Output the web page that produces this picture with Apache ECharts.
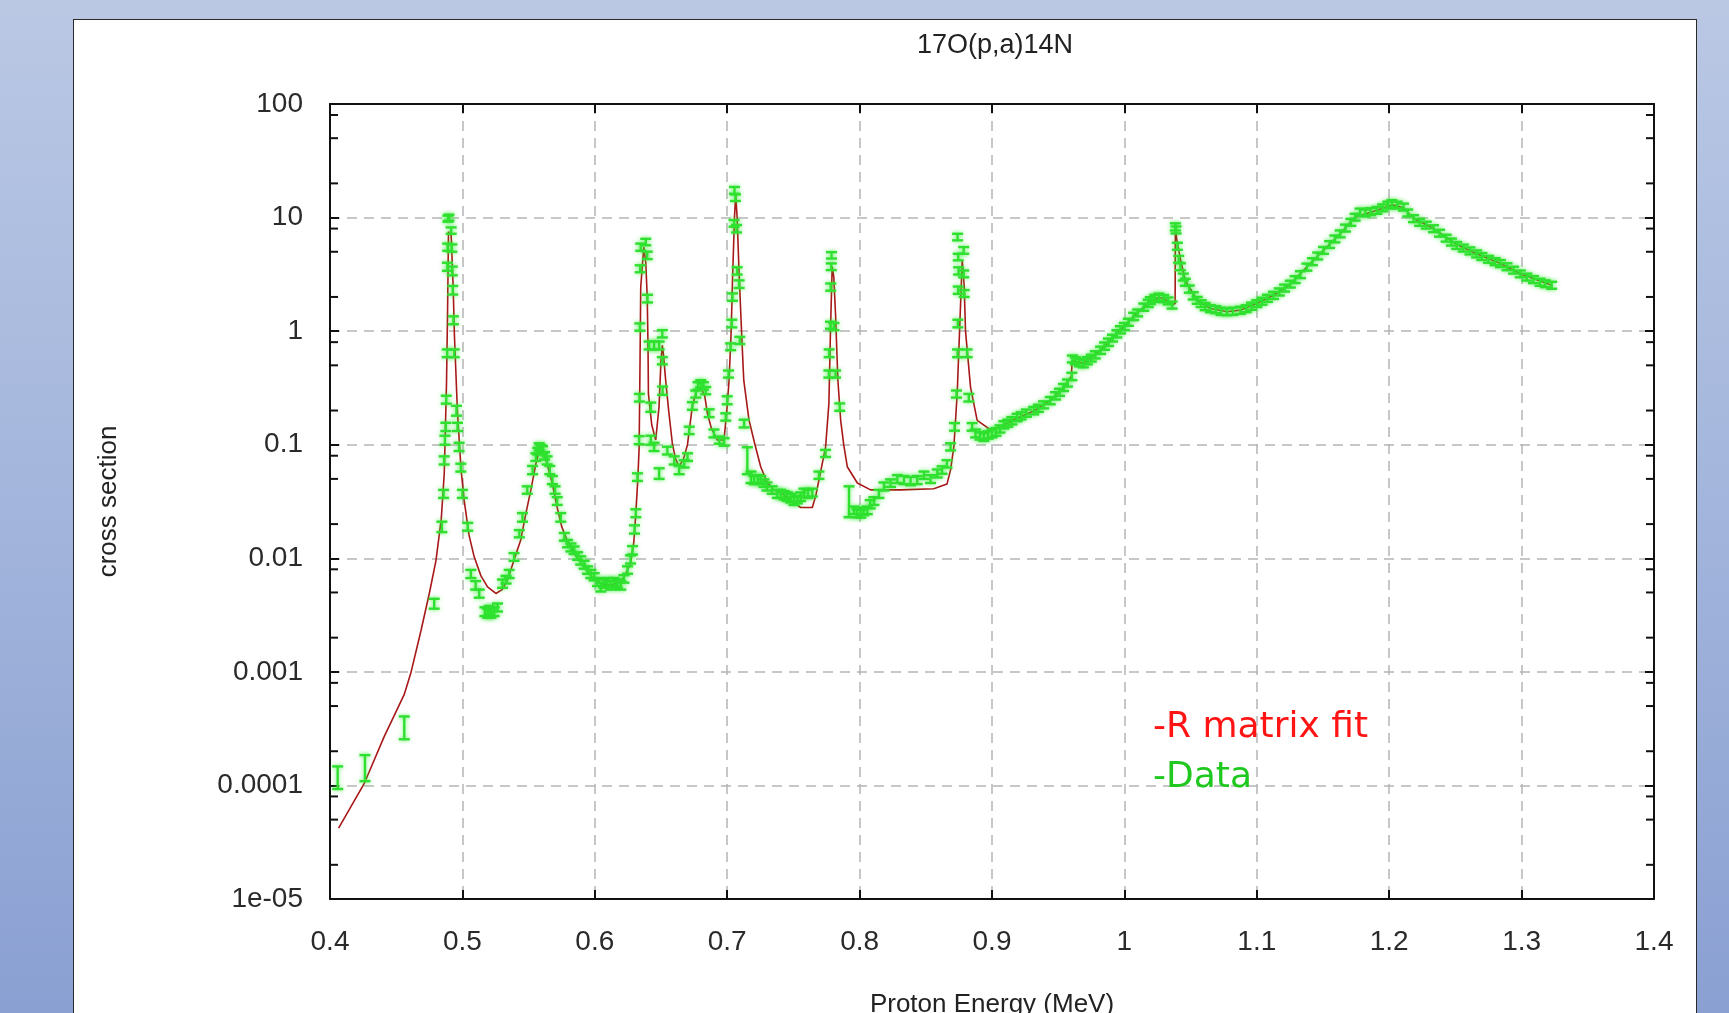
<!DOCTYPE html>
<html>
<head>
<meta charset="utf-8">
<script src="https://cdn.jsdelivr.net/npm/echarts@6/dist/echarts.min.js"></script>
<style>
  html, body { margin: 0; padding: 0; width: 1729px; height: 1013px; overflow: hidden; }
  body { background: linear-gradient(to bottom, #bac8e4 0%, #a3b5dc 50%, #8aa0d2 100%); position: relative; }
  #panel { position: absolute; left: 73px; top: 19px; width: 1624px; height: 1100px; background: #fff; border: 1.5px solid #2a2a2a; box-sizing: border-box; }
  #chart { position: absolute; left: 0; top: 0; width: 1729px; height: 1013px; }
</style>
</head>
<body>
<div id="panel"></div>
<div id="chart"></div>
<script>
// tick labels
var xTickLabels = ['0.4', '0.5', '0.6', '0.7', '0.8', '0.9', '1', '1.1', '1.2', '1.3', '1.4'];
var yTickLabels = ['1e-05', '0.0001', '0.001', '0.01', '0.1', '1', '10', '100'];
var yMinorTicks = [2e-5, 5e-5, 8e-5, 2e-4, 5e-4, 8e-4, 2e-3, 5e-3, 8e-3, 0.02, 0.05, 0.08,
    0.2, 0.5, 0.8, 2, 5, 8, 20, 50, 80];

// R matrix fit: [energy MeV, cross section]
var fitCurve = [
    [0.4065, 4.2e-5], [0.4260, 1.05e-4], [0.4410, 2.7e-4], [0.4560, 6.3e-4], [0.4610, 9.7e-4],
    [0.4687, 0.0023], [0.4750, 0.0049], [0.4800, 0.0095], [0.4840, 0.022], [0.4863, 0.056],
    [0.4880, 0.35], [0.4888, 1.5], [0.4895, 7.5], [0.4915, 7.0], [0.4930, 2.5], [0.4940, 0.9],
    [0.4963, 0.19], [0.4990, 0.06], [0.5014, 0.032], [0.5050, 0.016], [0.5089, 0.0103],
    [0.5140, 0.0070], [0.5190, 0.0056], [0.5253, 0.0049], [0.5300, 0.0053], [0.5340, 0.0064],
    [0.5400, 0.0105], [0.5440, 0.0144], [0.5480, 0.025], [0.5517, 0.040], [0.5555, 0.068],
    [0.5580, 0.089], [0.5610, 0.085], [0.5640, 0.068], [0.5680, 0.045], [0.5716, 0.028],
    [0.5750, 0.019], [0.5790, 0.0145], [0.5850, 0.0108], [0.5920, 0.0084], [0.5980, 0.0068],
    [0.6045, 0.0060], [0.6110, 0.0058], [0.6170, 0.0060], [0.6220, 0.0068], [0.6270, 0.0090],
    [0.6295, 0.0140], [0.6310, 0.025], [0.6325, 0.050], [0.6335, 0.095], [0.6342, 0.6],
    [0.6347, 2.45], [0.6370, 5.5], [0.6385, 4.0], [0.6396, 2.0], [0.6402, 0.73], [0.6405, 0.28],
    [0.6430, 0.15], [0.6460, 0.11], [0.6485, 0.215], [0.6500, 0.55], [0.6510, 0.75], [0.6520, 0.6],
    [0.6535, 0.37], [0.6560, 0.19], [0.6586, 0.102], [0.6610, 0.075], [0.6637, 0.064],
    [0.6670, 0.075], [0.6700, 0.10], [0.6737, 0.22], [0.6770, 0.30], [0.6800, 0.32], [0.6830, 0.27],
    [0.6850, 0.19], [0.6880, 0.14], [0.6925, 0.11], [0.6976, 0.11], [0.7000, 0.22], [0.7014, 0.37],
    [0.7030, 1.0], [0.7040, 2.8], [0.7055, 10], [0.7064, 16], [0.7075, 10], [0.7090, 3.2],
    [0.7110, 0.9], [0.7125, 0.37], [0.7165, 0.164], [0.7210, 0.10], [0.7253, 0.064], [0.7300, 0.047],
    [0.7353, 0.040], [0.7430, 0.036], [0.7500, 0.031], [0.7555, 0.028], [0.7643, 0.028],
    [0.7670, 0.036], [0.7693, 0.049], [0.7743, 0.095], [0.7768, 0.23], [0.7780, 1.0], [0.7793, 3.7],
    [0.7805, 3.0], [0.7818, 1.43], [0.7836, 0.37], [0.7857, 0.164], [0.7880, 0.10], [0.7907, 0.064],
    [0.7983, 0.046], [0.8083, 0.040], [0.8310, 0.040], [0.8560, 0.041], [0.8660, 0.045],
    [0.8687, 0.06], [0.8712, 0.096], [0.8737, 0.28], [0.8755, 1.0], [0.8775, 4.2], [0.8790, 2.5],
    [0.8800, 1.0], [0.8838, 0.32], [0.8888, 0.164], [0.8990, 0.135], [0.9090, 0.15], [0.9190, 0.172],
    [0.9315, 0.198], [0.9440, 0.245], [0.9540, 0.32], [0.9600, 0.40], [0.9605, 0.55], [0.9690, 0.52],
    [0.9820, 0.68], [0.9943, 0.95], [1.0070, 1.35], [1.0146, 1.63], [1.0196, 1.85], [1.0260, 1.98],
    [1.0297, 1.94], [1.0360, 1.70], [1.0383, 1.75], [1.0385, 8.3], [1.0395, 6.5], [1.0423, 4.3],
    [1.0460, 2.8], [1.0550, 1.87], [1.0650, 1.58], [1.0775, 1.48], [1.0876, 1.53], [1.1000, 1.75],
    [1.1126, 2.07], [1.1253, 2.6], [1.1378, 3.67], [1.1504, 5.15], [1.1630, 7.2], [1.1743, 10.1],
    [1.1907, 11.6], [1.2020, 13.0], [1.2108, 12.2], [1.2184, 9.8], [1.2335, 8.0], [1.2510, 5.8],
    [1.2660, 4.8], [1.2840, 3.94], [1.2990, 3.2], [1.3227, 2.54]
];

// measured data: [energy MeV, cross section, error]
var dataPoints = [
    [0.4058, 1.2e-4, 0.27e-4], [0.4264, 1.47e-4, 0.38e-4], [0.4561, 3.3e-4, 0.75e-4], [0.4787, 0.0040, 0.0004],
    [0.4845, 0.019, 0.002], [0.4858, 0.037, 0.003], [0.4862, 0.073, 0.006], [0.4868, 0.11, 0.01],
    [0.4875, 0.144, 0.012], [0.4878, 0.25, 0.02], [0.4885, 0.64, 0.05], [0.4887, 3.7, 0.3],
    [0.4889, 5.5, 0.4], [0.4891, 9.8, 0.6], [0.4898, 10.0, 0.6], [0.4915, 7.7, 0.5], [0.4920, 5.4, 0.4],
    [0.4923, 3.4, 0.3], [0.4927, 2.3, 0.2], [0.4932, 1.25, 0.1], [0.4938, 0.64, 0.05], [0.4955, 0.2, 0.02],
    [0.4963, 0.144, 0.012], [0.4975, 0.096, 0.008], [0.4988, 0.063, 0.005], [0.5000, 0.037, 0.003],
    [0.5040, 0.019, 0.0015], [0.5064, 0.0073, 0.0006], [0.5100, 0.0058, 0.0005], [0.5127, 0.0049, 0.0004],
    [0.5170, 0.0034, 0.0003], [0.5190, 0.0033, 0.0003], [0.5205, 0.0035, 0.0003], [0.5215, 0.0033, 0.0003],
    [0.5240, 0.0034, 0.0003], [0.5265, 0.0037, 0.0003], [0.5303, 0.0060, 0.0005], [0.5330, 0.0065, 0.0005],
    [0.5353, 0.0073, 0.0006], [0.5390, 0.0103, 0.0008], [0.5430, 0.0165, 0.0012], [0.5454, 0.023, 0.002],
    [0.5490, 0.040, 0.003], [0.5530, 0.060, 0.005], [0.5555, 0.078, 0.006], [0.5570, 0.088, 0.006],
    [0.5580, 0.096, 0.007], [0.5595, 0.092, 0.007], [0.5605, 0.090, 0.007], [0.5620, 0.080, 0.006],
    [0.5640, 0.073, 0.006], [0.5660, 0.060, 0.005], [0.5680, 0.049, 0.004], [0.5700, 0.040, 0.003],
    [0.5716, 0.032, 0.0025], [0.5743, 0.023, 0.002], [0.5770, 0.0155, 0.0012], [0.5794, 0.0135, 0.001],
    [0.5820, 0.0125, 0.001], [0.5844, 0.0118, 0.0009], [0.5870, 0.0105, 0.0008], [0.5894, 0.0096, 0.0008],
    [0.5920, 0.0088, 0.0007], [0.5945, 0.0079, 0.0006], [0.5970, 0.0073, 0.0006], [0.5995, 0.0069, 0.0005],
    [0.6020, 0.0062, 0.0005], [0.6045, 0.0056, 0.0005], [0.6070, 0.0060, 0.0005], [0.6096, 0.0062, 0.0005],
    [0.6120, 0.0058, 0.0005], [0.6146, 0.0062, 0.0005], [0.6170, 0.0060, 0.0005], [0.6196, 0.0058, 0.0005],
    [0.6220, 0.0066, 0.0005], [0.6247, 0.0079, 0.0006], [0.6270, 0.0098, 0.0008], [0.6285, 0.0118, 0.001],
    [0.6300, 0.018, 0.0015], [0.6310, 0.025, 0.002], [0.6322, 0.052, 0.004], [0.6335, 0.11, 0.009],
    [0.6337, 0.26, 0.02], [0.6340, 1.09, 0.08], [0.6343, 3.55, 0.25], [0.6347, 5.5, 0.4], [0.6385, 6.1, 0.4],
    [0.6396, 4.66, 0.35], [0.6398, 1.94, 0.15], [0.6410, 0.75, 0.06], [0.6423, 0.215, 0.02], [0.6423, 0.11, 0.01],
    [0.6448, 0.75, 0.06], [0.6448, 0.096, 0.008], [0.6486, 0.75, 0.06], [0.6486, 0.056, 0.006],
    [0.6510, 0.95, 0.07], [0.6510, 0.55, 0.04], [0.6512, 0.30, 0.025], [0.6548, 0.089, 0.007],
    [0.6600, 0.073, 0.006], [0.6637, 0.060, 0.005], [0.6675, 0.068, 0.005], [0.6700, 0.078, 0.006],
    [0.6713, 0.134, 0.01], [0.6737, 0.22, 0.017], [0.6763, 0.28, 0.02], [0.6780, 0.33, 0.025],
    [0.6800, 0.345, 0.025], [0.6820, 0.33, 0.025], [0.6838, 0.30, 0.022], [0.6864, 0.19, 0.015],
    [0.6900, 0.126, 0.01], [0.6940, 0.11, 0.008], [0.6977, 0.106, 0.008], [0.6989, 0.176, 0.013],
    [0.7000, 0.247, 0.02], [0.7010, 0.42, 0.03], [0.7026, 0.73, 0.05], [0.7035, 1.17, 0.09],
    [0.7040, 2.0, 0.15], [0.7052, 8.9, 0.6], [0.7055, 17.4, 1.2], [0.7062, 15.0, 1.0], [0.7070, 8.0, 0.6],
    [0.7075, 3.4, 0.25], [0.7090, 2.6, 0.2], [0.7095, 0.83, 0.06], [0.7128, 0.154, 0.012],
    [0.7152, 0.075, 0.02], [0.7180, 0.052, 0.006], [0.7203, 0.049, 0.004], [0.7230, 0.050, 0.004],
    [0.7253, 0.049, 0.004], [0.7278, 0.046, 0.0035], [0.7300, 0.043, 0.0035], [0.7340, 0.040, 0.003],
    [0.7379, 0.037, 0.003], [0.7403, 0.037, 0.003], [0.7430, 0.036, 0.003], [0.7454, 0.035, 0.003],
    [0.7480, 0.034, 0.003], [0.7504, 0.032, 0.0025], [0.7530, 0.033, 0.0025], [0.7555, 0.035, 0.003],
    [0.7580, 0.038, 0.003], [0.7610, 0.037, 0.003], [0.7643, 0.038, 0.003], [0.7693, 0.054, 0.004],
    [0.7743, 0.084, 0.006], [0.7768, 0.42, 0.03], [0.7770, 0.64, 0.05], [0.7780, 1.13, 0.08],
    [0.7782, 2.45, 0.18], [0.7786, 3.7, 0.25], [0.7788, 4.66, 0.3], [0.7806, 1.1, 0.08],
    [0.7818, 0.42, 0.03], [0.7850, 0.215, 0.016], [0.7920, 0.033, 0.01], [0.7957, 0.0265, 0.002],
    [0.7980, 0.025, 0.002], [0.8008, 0.0248, 0.002], [0.8030, 0.026, 0.002], [0.8058, 0.0265, 0.002],
    [0.8080, 0.030, 0.0025], [0.8108, 0.032, 0.0025], [0.8146, 0.037, 0.003], [0.8184, 0.043, 0.0035],
    [0.8234, 0.046, 0.0035], [0.8285, 0.050, 0.004], [0.8335, 0.049, 0.004], [0.8385, 0.048, 0.004],
    [0.8435, 0.049, 0.004], [0.8486, 0.054, 0.004], [0.8536, 0.050, 0.004], [0.8587, 0.056, 0.0045],
    [0.8623, 0.060, 0.0045], [0.8660, 0.068, 0.005], [0.8687, 0.096, 0.007], [0.8717, 0.144, 0.011],
    [0.8732, 0.28, 0.02], [0.8740, 0.64, 0.05], [0.8742, 1.17, 0.09], [0.8745, 2.3, 0.17],
    [0.8748, 3.4, 0.25], [0.8745, 4.5, 0.3], [0.8740, 6.75, 0.45], [0.8786, 5.15, 0.35],
    [0.8786, 3.2, 0.22], [0.8790, 2.15, 0.15], [0.8812, 0.64, 0.05], [0.8825, 0.26, 0.02],
    [0.8850, 0.144, 0.011], [0.8876, 0.126, 0.01], [0.8910, 0.12, 0.009], [0.8938, 0.117, 0.009],
    [0.8970, 0.122, 0.009], [0.9000, 0.126, 0.01], [0.9030, 0.13, 0.01], [0.9060, 0.138, 0.01],
    [0.9090, 0.15, 0.011], [0.9120, 0.155, 0.011], [0.9150, 0.163, 0.012], [0.9190, 0.174, 0.013],
    [0.9220, 0.18, 0.013], [0.9260, 0.19, 0.014], [0.9315, 0.20, 0.015], [0.9350, 0.21, 0.015],
    [0.9390, 0.225, 0.016], [0.9440, 0.245, 0.018], [0.9480, 0.27, 0.02], [0.9510, 0.29, 0.021],
    [0.9540, 0.32, 0.023], [0.9570, 0.35, 0.025], [0.9603, 0.40, 0.03], [0.9607, 0.57, 0.04],
    [0.9630, 0.55, 0.04], [0.9660, 0.53, 0.04], [0.9690, 0.52, 0.04], [0.9720, 0.55, 0.04],
    [0.9750, 0.58, 0.04], [0.9780, 0.62, 0.045], [0.9820, 0.68, 0.05], [0.9850, 0.74, 0.055],
    [0.9880, 0.80, 0.06], [0.9910, 0.87, 0.06], [0.9943, 0.95, 0.07], [0.9970, 1.03, 0.075],
    [1.0000, 1.10, 0.08], [1.0030, 1.20, 0.085], [1.0070, 1.35, 0.1], [1.0100, 1.45, 0.1],
    [1.0146, 1.63, 0.12], [1.0180, 1.76, 0.13], [1.0196, 1.86, 0.13], [1.0230, 1.95, 0.14],
    [1.0260, 2.0, 0.14], [1.0297, 1.94, 0.14], [1.0330, 1.85, 0.13], [1.0360, 1.70, 0.12],
    [1.0385, 8.3, 0.6], [1.0390, 7.8, 0.55], [1.0400, 5.6, 0.4], [1.0410, 4.3, 0.3],
    [1.0423, 3.7, 0.26], [1.0445, 3.0, 0.21], [1.0460, 2.7, 0.19], [1.0490, 2.35, 0.17],
    [1.0520, 2.05, 0.15], [1.0550, 1.87, 0.13], [1.0580, 1.75, 0.12], [1.0610, 1.65, 0.12],
    [1.0650, 1.58, 0.11], [1.0690, 1.55, 0.11], [1.0730, 1.50, 0.11], [1.0775, 1.48, 0.1],
    [1.0820, 1.50, 0.11], [1.0876, 1.53, 0.11], [1.0920, 1.58, 0.11], [1.0960, 1.66, 0.12],
    [1.1000, 1.75, 0.12], [1.1040, 1.84, 0.13], [1.1080, 1.95, 0.14], [1.1126, 2.07, 0.15],
    [1.1170, 2.22, 0.16], [1.1210, 2.40, 0.17], [1.1253, 2.60, 0.18], [1.1290, 2.85, 0.2],
    [1.1330, 3.15, 0.22], [1.1378, 3.67, 0.26], [1.1420, 4.1, 0.29], [1.1460, 4.6, 0.32],
    [1.1504, 5.15, 0.36], [1.1550, 5.8, 0.4], [1.1590, 6.5, 0.45], [1.1630, 7.2, 0.5],
    [1.1670, 8.1, 0.57], [1.1710, 9.1, 0.64], [1.1743, 10.1, 0.7], [1.1780, 11.2, 0.8],
    [1.1820, 11.0, 0.77], [1.1860, 11.3, 0.8], [1.1907, 11.6, 0.8], [1.1950, 12.2, 0.85],
    [1.1990, 12.9, 0.9], [1.2020, 13.3, 0.93], [1.2060, 12.9, 0.9], [1.2108, 12.4, 0.87],
    [1.2140, 11.0, 0.77], [1.2184, 9.8, 0.69], [1.2230, 9.1, 0.64], [1.2280, 8.6, 0.6],
    [1.2335, 8.0, 0.56], [1.2380, 7.3, 0.51], [1.2430, 6.6, 0.46], [1.2470, 6.1, 0.43],
    [1.2510, 5.7, 0.4], [1.2560, 5.4, 0.38], [1.2610, 5.1, 0.36], [1.2660, 4.8, 0.34],
    [1.2700, 4.55, 0.32], [1.2750, 4.3, 0.3], [1.2800, 4.1, 0.29], [1.2840, 3.94, 0.28],
    [1.2890, 3.7, 0.26], [1.2940, 3.45, 0.24], [1.2990, 3.2, 0.22], [1.3040, 3.0, 0.21],
    [1.3090, 2.85, 0.2], [1.3140, 2.70, 0.19], [1.3180, 2.62, 0.18], [1.3227, 2.54, 0.18]
];

var labelFont = 'Liberation Sans, Arial, sans-serif';
var dataColor = '#30e030';

function barStyle() {
    return { stroke: dataColor, lineWidth: 2.4, shadowBlur: 4, shadowColor: 'rgba(50,235,50,0.7)' };
}

function renderErrorBar(params, api) {
    var e = api.value(0), s = api.value(1), d = api.value(2);
    var hi = api.coord([e, s + d]);
    var lo = api.coord([e, s - d > 0 ? s - d : s * 0.5]);
    var w = 5.5;
    return {
        type: 'group',
        children: [
            { type: 'line', shape: { x1: hi[0], y1: hi[1], x2: lo[0], y2: lo[1] }, style: barStyle() },
            { type: 'line', shape: { x1: hi[0] - w, y1: hi[1], x2: hi[0] + w, y2: hi[1] }, style: barStyle() },
            { type: 'line', shape: { x1: lo[0] - w, y1: lo[1], x2: lo[0] + w, y2: lo[1] }, style: barStyle() }
        ]
    };
}

function renderMinorTick(params, api) {
    var v = api.value(1);
    var l = api.coord([0.4, v]);
    var r = api.coord([1.4, v]);
    return {
        type: 'group',
        children: [
            { type: 'line', shape: { x1: l[0], y1: l[1], x2: l[0] + 8, y2: l[1] }, style: { stroke: '#111', lineWidth: 2 } },
            { type: 'line', shape: { x1: r[0] - 8, y1: r[1], x2: r[0], y2: r[1] }, style: { stroke: '#111', lineWidth: 2 } }
        ]
    };
}

var gridLine = { show: true, lineStyle: { color: '#b5b5b5', width: 1.5, type: [10, 7] } };
var axisLine = { show: true, onZero: false, lineStyle: { color: '#111', width: 2 } };
var tick = { show: true, inside: true, length: 9, lineStyle: { color: '#111', width: 2 } };

var chart = echarts.init(document.getElementById('chart'), null, { renderer: 'canvas' });
chart.setOption({
    animation: false,
    backgroundColor: 'transparent',
    title: {
        text: '17O(p,a)14N',
        left: 990, top: 27, textAlign: 'center',
        textStyle: { fontFamily: labelFont, fontSize: 27, fontWeight: 'normal', color: '#222' }
    },
    legend: {
        orient: 'vertical',
        left: 1148, top: 710,
        padding: 0,
        itemGap: 14,
        itemWidth: 0,
        icon: 'none',
        selectedMode: false,
        formatter: '-{name}',
        textStyle: { fontFamily: 'DejaVu Sans, Verdana, sans-serif', fontSize: 36 },
        data: [
            { name: 'R matrix fit', textStyle: { color: '#ff1414' } },
            { name: 'Data', textStyle: { color: '#1ec81e' } }
        ]
    },
    grid: { left: 330, right: 75, top: 104, bottom: 114, outerBoundsMode: 'none', containLabel: false },
    xAxis: [{
        type: 'value', position: 'bottom',
        min: 0.4, max: 1.4, interval: 0.1,
        axisLine: axisLine, axisTick: tick, splitLine: gridLine,
        name: 'Proton Energy (MeV)', nameLocation: 'middle', nameGap: 93,
        nameTextStyle: { fontFamily: labelFont, fontSize: 26, color: '#222' },
        axisLabel: {
            fontFamily: labelFont, fontSize: 28, color: '#2a2a2a', margin: 29,
            formatter: function (v) { return xTickLabels[Math.round((v - 0.4) * 10)]; }
        }
    }, {
        type: 'value', position: 'top',
        min: 0.4, max: 1.4, interval: 0.1,
        axisLine: axisLine, axisTick: tick, splitLine: { show: false }, axisLabel: { show: false }
    }],
    yAxis: [{
        type: 'log', logBase: 10, position: 'left',
        min: 1e-5, max: 100,
        axisLine: axisLine, axisTick: tick, splitLine: gridLine,
        name: 'cross section', nameLocation: 'middle', nameGap: 208,
        nameTextStyle: { fontFamily: labelFont, fontSize: 26, color: '#222' },
        axisLabel: {
            fontFamily: labelFont, fontSize: 28, color: '#2a2a2a', margin: 27,
            formatter: function (v) { return yTickLabels[Math.round(Math.log10(v)) + 5]; }
        }
    }, {
        type: 'log', logBase: 10, position: 'right',
        min: 1e-5, max: 100,
        axisLine: axisLine, axisTick: tick, splitLine: { show: false }, axisLabel: { show: false }
    }],
    series: [{
        name: 'R matrix fit',
        type: 'line',
        data: fitCurve,
        showSymbol: false,
        symbol: 'none',
        lineStyle: { color: '#a81818', width: 1.6 },
        itemStyle: { color: '#ff1414' },
        z: 3
    }, {
        name: 'Data',
        type: 'custom',
        data: dataPoints,
        encode: { x: 0, y: 1 },
        renderItem: renderErrorBar,
        itemStyle: { color: '#1ec81e' },
        z: 4
    }, {
        name: 'minor ticks',
        type: 'custom',
        data: yMinorTicks.map(function (v) { return [0.4, v]; }),
        encode: { x: 0, y: 1 },
        renderItem: renderMinorTick,
        silent: true,
        z: 5
    }]
});
</script>
</body>
</html>
